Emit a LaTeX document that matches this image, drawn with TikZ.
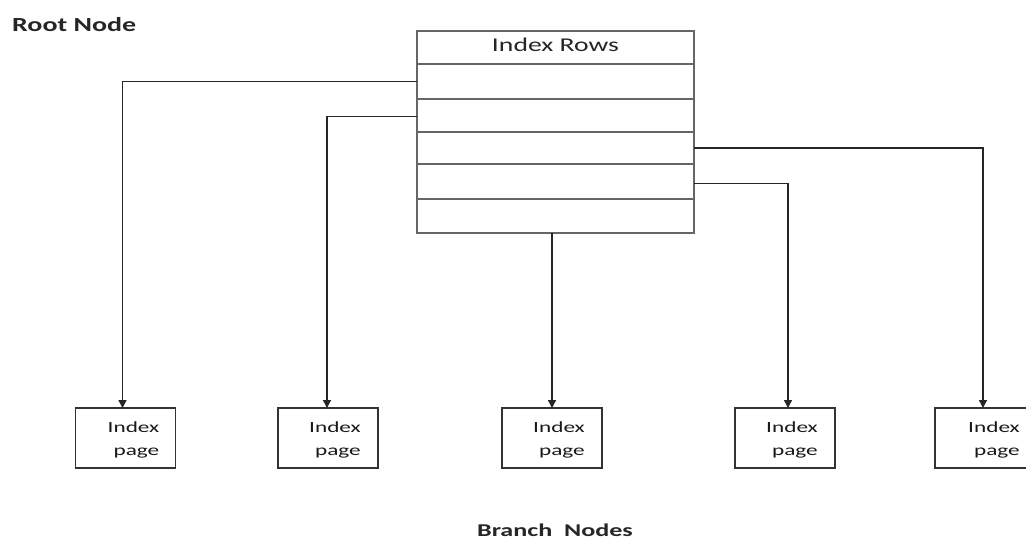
\documentclass[tikz,border=0pt]{standalone}
\usepackage{fontspec}
\setmainfont{Carlito}
\usetikzlibrary{arrows.meta}
\begin{document}
\begin{tikzpicture}[x=1pt,y=-1pt,
  rowbox/.style={draw=black!60, line width=1.2pt, minimum width=277pt, inner sep=0pt, outer sep=0pt},
  pagebox/.style={draw=black!80, line width=1.5pt, minimum width=100pt, minimum height=60pt, inner sep=0pt, outer sep=0pt},
  ptext/.style={anchor=east, align=right, font=\fontsize{15.5}{23}\selectfont, text=black!90, inner sep=0pt},
  conn/.style={draw=black!85, line width=1.5pt},
  arr/.style={conn, -{Triangle[length=8pt,width=8pt]}},
  title/.style={font=\bfseries\fontsize{20}{24}\selectfont, text=black!85, inner sep=0pt}
]
\clip (0,0) rectangle (1026,541);
\fill[white] (0,0) rectangle (1026,541);

% root table rows
\node[rowbox, minimum height=33pt] (r0) at (555.5,47.5) {\raisebox{6pt}{\fontsize{19.5}{22}\selectfont\color{black!85}\scalebox{1.42}[1]{Index Rows}}};
\node[rowbox, minimum height=35pt] (r1) at (555.5,81.5) {};
\node[rowbox, minimum height=33pt] (r2) at (555.5,115.5) {};
\node[rowbox, minimum height=32pt] (r3) at (555.5,148) {};
\node[rowbox, minimum height=35pt] (r4) at (555.5,181.5) {};
\node[rowbox, minimum height=34pt] (r5) at (555.5,216) {};

% branch pages
\node[pagebox] (p1) at (125.5,438) {};
\node[pagebox] (p2) at (328,438) {};
\node[pagebox] (p3) at (552,438) {};
\node[pagebox] (p4) at (785,438) {};
\node[pagebox] (p5) at (985,438) {};

\foreach \p/\s in {p1/16,p2/17,p3/17,p4/17,p5/15}{
  \node[ptext] (\p t) at ([xshift=-\s pt,yshift=-2pt]\p.east) {\scalebox{1.5}[1]{Index}\\\scalebox{1.5}[1]{page}};
}

% connectors
\draw[arr] (r1.west) -| ([xshift=-3pt]p1.north);
\draw[arr] ([yshift=-1pt]r2.west) -| ([xshift=-1pt]p2.north);
\draw[arr] (r3.east) -| ([xshift=-2pt]p5.north);
\draw[arr] ([yshift=-2pt]r4.east) -| ([xshift=3pt]p4.north);
\draw[arr] (r5.south -| p3.north) -- (p3.north);

% labels
\node[title, anchor=south west] (root) at (12,32) {\scalebox{1.4}[1]{Root Node}};
\node[title, anchor=south, font=\bfseries\fontsize{18}{22}\selectfont] (branch) at (555,537) {\scalebox{1.45}[1]{Branch\ \ Nodes}};
\end{tikzpicture}
\end{document}
